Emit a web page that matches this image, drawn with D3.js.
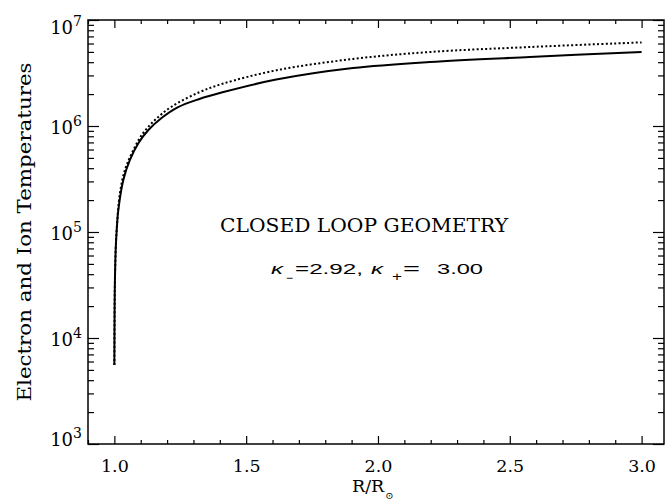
<!DOCTYPE html>
<html>
<head>
<meta charset="utf-8">
<script src="https://cdn.jsdelivr.net/npm/d3@7"></script>
<style>
  html, body { margin: 0; padding: 0; background: #fff; }
  svg { display: block; }
  .serif { font-family: "DejaVu Serif", serif; }
  .sans { font-family: "Liberation Sans", "DejaVu Sans", sans-serif; }
</style>
</head>
<body>
<svg id="chart" width="665" height="504"></svg>
<script>
// Radial distance (in solar radii) and temperature for the two species
const rSolid = [1.000, 1.001, 1.002, 1.005, 1.009, 1.015, 1.034, 1.059, 1.091, 1.129,
                1.179, 1.240, 1.320, 1.410, 1.614, 1.905, 2.196, 2.576, 3.000];
const tSolid = [5.56e3, 2.0e4, 3.3e4, 6.8e4, 1.05e5, 1.61e5, 3.10e5, 4.78e5, 6.87e5, 9.16e5,
                1.19e6, 1.50e6, 1.79e6, 2.08e6, 2.74e6, 3.52e6, 4.02e6, 4.48e6, 4.99e6];

const rDotted = [1.000, 1.001, 1.002, 1.005, 1.009, 1.021, 1.040, 1.066, 1.104, 1.154,
                 1.217, 1.320, 1.410, 1.614, 1.905, 2.196, 2.576, 3.000];
const tDotted = [5.56e3, 2.0e4, 3.3e4, 6.8e4, 1.07e5, 2.32e5, 3.85e5, 5.52e5, 8.22e5, 1.14e6,
                 1.52e6, 2.07e6, 2.50e6, 3.35e6, 4.29e6, 4.99e6, 5.56e6, 6.15e6];

const xMajorTicks = [1.0, 1.5, 2.0, 2.5, 3.0];
const xTickLabels = ["1.0", "1.5", "2.0", "2.5", "3.0"];
const yMajorTicks = [1e3, 1e4, 1e5, 1e6, 1e7];
const yExponents = ["3", "4", "5", "6", "7"];

const xTitle = "R/R";
const xTitleSub = "\u2299";
const yTitle = "Electron and Ion Temperatures";
const noteTitle = "CLOSED LOOP GEOMETRY";

// Plot frame
const frameLeft = 88, frameRight = 664, frameTop = 20, frameBottom = 444;

const svg = d3.select("#chart");

const x = d3.scaleLinear().domain([0.9, 3.085]).range([frameLeft, frameRight]);
const y = d3.scaleLog().domain([1e3, 1e7]).range([frameBottom, frameTop]);

const xMinorTicks = d3.range(9, 31).map(d => d / 10)
  .filter(d => !xMajorTicks.some(m => Math.abs(m - d) < 1e-9));
const yMinorTicks = [];
[1e3, 1e4, 1e5, 1e6].forEach(dec => { for (let k = 2; k <= 9; k++) yMinorTicks.push(dec * k); });

const axisStyle = g => {
  g.select(".domain").remove();
  g.selectAll(".tick line").attr("stroke", "#000").attr("stroke-width", 1.2);
};

// Bottom and top axes (ticks point inwards)
svg.append("g").attr("transform", `translate(0,${frameBottom})`)
  .call(d3.axisBottom(x).tickValues(xMinorTicks).tickSize(-4).tickFormat(""))
  .call(axisStyle);
svg.append("g").attr("transform", `translate(0,${frameTop})`)
  .call(d3.axisTop(x).tickValues(xMinorTicks).tickSize(-4).tickFormat(""))
  .call(axisStyle);
svg.append("g").attr("transform", `translate(0,${frameTop})`)
  .call(d3.axisTop(x).tickValues(xMajorTicks).tickSize(-8).tickFormat(""))
  .call(axisStyle);
const xAxis = svg.append("g").attr("transform", `translate(0,${frameBottom})`)
  .call(d3.axisBottom(x).tickValues(xMajorTicks).tickSize(-8)
        .tickFormat((d, i) => xTickLabels[i]))
  .call(axisStyle);
xAxis.selectAll(".tick text")
  .attr("class", "serif")
  .attr("y", 28).attr("dy", null)
  .attr("fill", "#000")
  .style("font-size", "17.5px");

// Left and right axes
svg.append("g").attr("transform", `translate(${frameLeft},0)`)
  .call(d3.axisLeft(y).tickValues(yMinorTicks).tickSize(-6).tickFormat(""))
  .call(axisStyle);
svg.append("g").attr("transform", `translate(${frameRight},0)`)
  .call(d3.axisRight(y).tickValues(yMinorTicks).tickSize(-6).tickFormat(""))
  .call(axisStyle);
svg.append("g").attr("transform", `translate(${frameRight},0)`)
  .call(d3.axisRight(y).tickValues(yMajorTicks).tickSize(-11).tickFormat(""))
  .call(axisStyle);
const yAxis = svg.append("g").attr("transform", `translate(${frameLeft},0)`)
  .call(d3.axisLeft(y).tickValues(yMajorTicks).tickSize(-11).tickFormat(""))
  .call(axisStyle);

// Power-of-ten labels; the end labels are nudged inside the frame
yAxis.selectAll(".tick").each(function (d, i) {
  const ty = y(d);
  const base = Math.min(Math.max(ty + 7, frameTop + 13), frameBottom + 1) - ty;
  const t = d3.select(this).select("text")
    .attr("class", "serif")
    .attr("x", -6).attr("y", base).attr("dy", null)
    .attr("text-anchor", "end")
    .attr("fill", "#000")
    .text(null);
  t.append("tspan").style("font-size", "18px").text("10");
  t.append("tspan").style("font-size", "14px").attr("dy", -8).text(yExponents[i]);
});

// Frame
svg.append("rect")
  .attr("x", frameLeft).attr("y", frameTop)
  .attr("width", frameRight - frameLeft).attr("height", frameBottom - frameTop)
  .attr("fill", "none").attr("stroke", "#000").attr("stroke-width", 1.5);

// Axis titles
const xt = svg.append("text").attr("class", "serif")
  .attr("x", 352).attr("y", 492)
  .style("font-size", "17.5px").attr("fill", "#000");
xt.append("tspan").text(xTitle);
xt.append("tspan").attr("dy", 7).attr("dx", 1).style("font-size", "10px").text(xTitleSub);

svg.append("text").attr("class", "serif")
  .attr("transform", `translate(31,232) rotate(-90)`)
  .attr("text-anchor", "middle").style("font-size", "18px").attr("fill", "#000")
  .attr("textLength", 339).attr("lengthAdjust", "spacingAndGlyphs")
  .text(yTitle);

// Temperature curves
const line = d3.line().curve(d3.curveCatmullRom.alpha(0.5)).x(d => x(d[0])).y(d => y(d[1]));

svg.append("path")
  .datum(rDotted.map((r, i) => [r, tDotted[i]]))
  .attr("d", line)
  .attr("fill", "none").attr("stroke", "#000")
  .attr("stroke-width", 2).attr("stroke-dasharray", "2,2.3");

svg.append("path")
  .datum(rSolid.map((r, i) => [r, tSolid[i]]))
  .attr("d", line)
  .attr("fill", "none").attr("stroke", "#000")
  .attr("stroke-width", 2);

// Annotation
svg.append("text").attr("class", "serif")
  .attr("x", 220).attr("y", 232)
  .style("font-size", "18px").attr("fill", "#000")
  .attr("textLength", 288).attr("lengthAdjust", "spacingAndGlyphs")
  .text(noteTitle);

// Kappa values, set in a wide sans face
const note = svg.append("text").attr("class", "sans")
  .attr("y", 274)
  .style("font-size", "15.5px").attr("fill", "#000");
const piece = (txt, px, w, opts = {}) => {
  const s = note.append("tspan").attr("x", px)
    .attr("textLength", w).attr("lengthAdjust", "spacingAndGlyphs").text(txt);
  if (opts.dy) s.attr("dy", opts.dy);
  if (opts.size) s.style("font-size", opts.size);
  if (opts.italic) s.style("font-style", "italic");
  return s;
};
piece("\u03BA", 271, 12, { italic: true });
piece("\u2212", 286, 7, { dy: 8, size: "12px" });
piece("=2.92,", 295, 68, { dy: -8 });
piece("\u03BA", 371, 12, { italic: true });
piece("+", 392, 10, { dy: 7, size: "12px" });
piece("=", 403, 17, { dy: -7 });
piece("3.00", 437, 46);
</script>
</body>
</html>
